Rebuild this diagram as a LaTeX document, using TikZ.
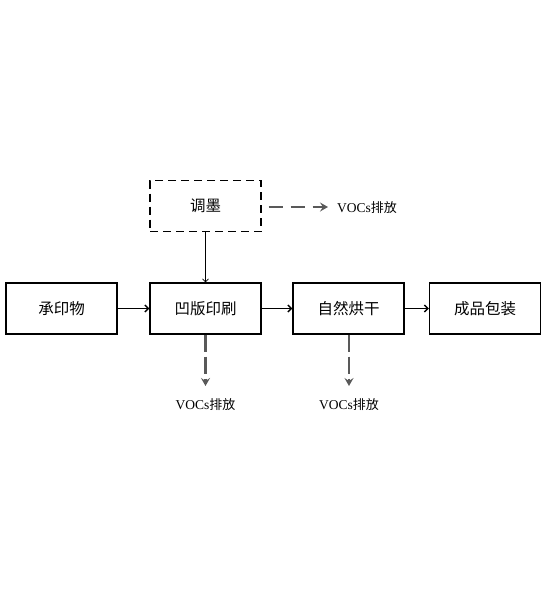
\documentclass[tikz,border=0pt]{standalone}
\usepackage{fontspec}
\setmainfont{Liberation Serif}
\newfontfamily\cjk{Noto Sans CJK SC}
\usetikzlibrary{arrows.meta}
\begin{document}
\begin{tikzpicture}[x=1pt,y=-1pt,
  procbox/.style={draw,line width=1.4pt,minimum width=111pt,minimum height=51pt,inner sep=0pt,font=\cjk\fontsize{15.5}{18}\selectfont},
  dashbox/.style={procbox,dash pattern=on 8pt off 5pt},
  flow/.style={draw,line width=1.3pt,-{Straight Barb[length=3.5pt,width=7pt]}},
  thin flow/.style={draw,line width=0.7pt,-{Straight Barb[length=3pt,width=6pt]}},
  emit/.style={draw,gray!70!black,line width=2.2pt,dash pattern=on 17pt off 5pt,-{Stealth[length=8pt,width=9pt,inset=3pt]}},
  voc/.style={font=\fontsize{13.5}{16}\selectfont,inner sep=0pt}]
\useasboundingbox (0,0) rectangle (548,600);
\node[procbox] (a) at (61.5,308.5) {承印物};
\node[procbox] (b) at (205.5,308.5) {凹版印刷};
\node[procbox] (c) at (348.5,308.5) {自然烘干};
\node[procbox] (d) at (485,308.5) {成品包装};
\node[dashbox] (m) at (205.5,206) {调墨};
\node[voc,anchor=west] (v1) at (337,208) {VOCs{\cjk\fontsize{13}{16}\selectfont 排放}};
\node[voc] (v2) at (205.5,405) {VOCs{\cjk\fontsize{13}{16}\selectfont 排放}};
\node[voc] (v3) at (349,405) {VOCs{\cjk\fontsize{13}{16}\selectfont 排放}};
\coordinate (e1) at (328,207);
\coordinate (e2) at (205.5,386);
\coordinate (e3) at (349,386);
\path[flow] (a) -- (b);
\path[flow] (b) -- (c);
\path[flow] (c) -- (d);
\path[thin flow] (m) -- (b);
\path[emit,dash pattern=on 14pt off 8pt] ([xshift=7pt]m.east|-e1) -- (e1);
\path[emit] (b.south) -- (e2);
\path[emit] (c.south-|e3) -- (e3);
\end{tikzpicture}
\end{document}
